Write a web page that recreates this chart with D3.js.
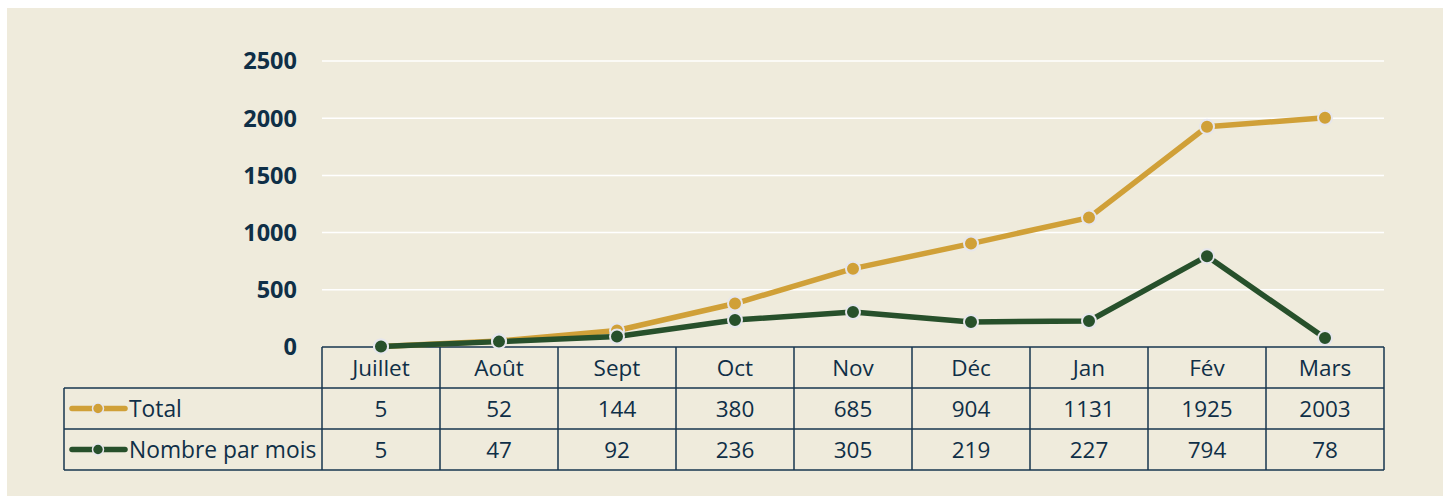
<!DOCTYPE html>
<html>
<head>
<meta charset="utf-8">
<script src="https://cdn.jsdelivr.net/npm/d3@7"></script>
<style>
  body { margin: 0; background: #fff; }
  svg { display: block; }
  text { font-family: "Open Sans", sans-serif; fill: #0f2f47; }
</style>
</head>
<body>
<svg id="canvas" width="1443" height="496"></svg>
<script>
// Data
let months = ['Juillet', 'Août', 'Sept', 'Oct', 'Nov', 'Déc', 'Jan', 'Fév', 'Mars']
let total = [5, 52, 144, 380, 685, 904, 1131, 1925, 2003]
let parMois = [5, 47, 92, 236, 305, 219, 227, 794, 78]
let yTicks = [0, 500, 1000, 1500, 2000, 2500]
let seriesNames = ['Total', 'Nombre par mois']

let colors = ['#d0a038', '#27502b']
let ink = '#17364f'

let svg = d3.select('#canvas')

// background panel
svg.append('rect')
    .attr('x', 7).attr('y', 8)
    .attr('width', 1436).attr('height', 488)
    .attr('fill', '#efebdc')

let x = d3.scaleBand().domain(months).range([322, 1384])
let y = d3.scaleLinear().domain([0, 2500]).range([347, 61])

// grid lines
svg.append('g')
    .selectAll('line')
    .data(yTicks.filter(d => d > 0))
    .enter()
    .append('line')
    .attr('x1', 322).attr('x2', 1384)
    .attr('y1', d => y(d)).attr('y2', d => y(d))
    .attr('stroke', '#ffffff')
    .attr('stroke-width', 1.5)

// y axis labels
svg.append('g')
    .selectAll('text')
    .data(yTicks)
    .enter()
    .append('text')
    .attr('x', 297)
    .attr('y', d => y(d))
    .attr('dy', '0.36em')
    .attr('text-anchor', 'end')
    .style('font-size', '23.5px')
    .style('font-weight', 'bold')
    .text(d => d)

// table
let rowTop = 347, rowH = 41
let tbl = svg.append('g')
    .attr('stroke', ink)
    .attr('stroke-width', 1.5)
    .attr('fill', 'none')

// horizontal lines
tbl.append('line').attr('x1', 322).attr('x2', 1384).attr('y1', rowTop).attr('y2', rowTop)
;[1, 2, 3].forEach(i => {
    tbl.append('line').attr('x1', 64).attr('x2', 1384)
        .attr('y1', rowTop + i * rowH).attr('y2', rowTop + i * rowH)
})
// vertical lines
let xEdges = months.map(m => x(m)).concat([1384])
tbl.selectAll('line.v')
    .data(xEdges)
    .enter()
    .append('line')
    .attr('class', 'v')
    .attr('x1', d => d).attr('x2', d => d)
    .attr('y1', rowTop).attr('y2', rowTop + 3 * rowH)
tbl.append('line').attr('x1', 64).attr('x2', 64)
    .attr('y1', rowTop + rowH).attr('y2', rowTop + 3 * rowH)

let cellText = (data, row) => {
    svg.append('g')
        .selectAll('text')
        .data(data)
        .enter()
        .append('text')
        .attr('x', (d, i) => x(months[i]) + x.bandwidth() / 2)
        .attr('y', rowTop + row * rowH + rowH / 2)
        .attr('dy', '0.36em')
        .attr('text-anchor', 'middle')
        .style('font-size', '22.5px')
        .text(d => d)
}
cellText(months, 0)
cellText(total, 1)
cellText(parMois, 2)

// legend keys in table
seriesNames.forEach((name, i) => {
    let cy = rowTop + (i + 1) * rowH + rowH / 2
    svg.append('line')
        .attr('x1', 72).attr('x2', 125)
        .attr('y1', cy).attr('y2', cy)
        .attr('stroke', colors[i])
        .attr('stroke-width', 5.5)
        .attr('stroke-linecap', 'round')
    svg.append('circle')
        .attr('cx', 98).attr('cy', cy).attr('r', 5.5)
        .attr('fill', colors[i])
        .attr('stroke', '#e6e6ec').attr('stroke-width', 1.5)
    svg.append('text')
        .attr('x', 129).attr('y', cy)
        .attr('dy', '0.36em')
        .style('font-size', '22.8px')
        .text(name)
})

// lines
let line = d3.line()
    .x((d, i) => x(months[i]) + x.bandwidth() / 2)
    .y(d => y(d))

;[total, parMois].forEach((s, k) => {
    svg.append('path')
        .datum(s)
        .attr('d', line)
        .attr('fill', 'none')
        .attr('stroke', colors[k])
        .attr('stroke-width', 5.5)
        .attr('stroke-linejoin', 'round')
})
;[total, parMois].forEach((s, k) => {
    svg.append('g')
        .selectAll('circle')
        .data(s)
        .enter()
        .append('circle')
        .attr('cx', (d, i) => x(months[i]) + x.bandwidth() / 2)
        .attr('cy', d => y(d))
        .attr('r', 7)
        .attr('fill', colors[k])
        .attr('stroke', '#e6e6ec')
        .attr('stroke-width', 2)
})
</script>
</body>
</html>
